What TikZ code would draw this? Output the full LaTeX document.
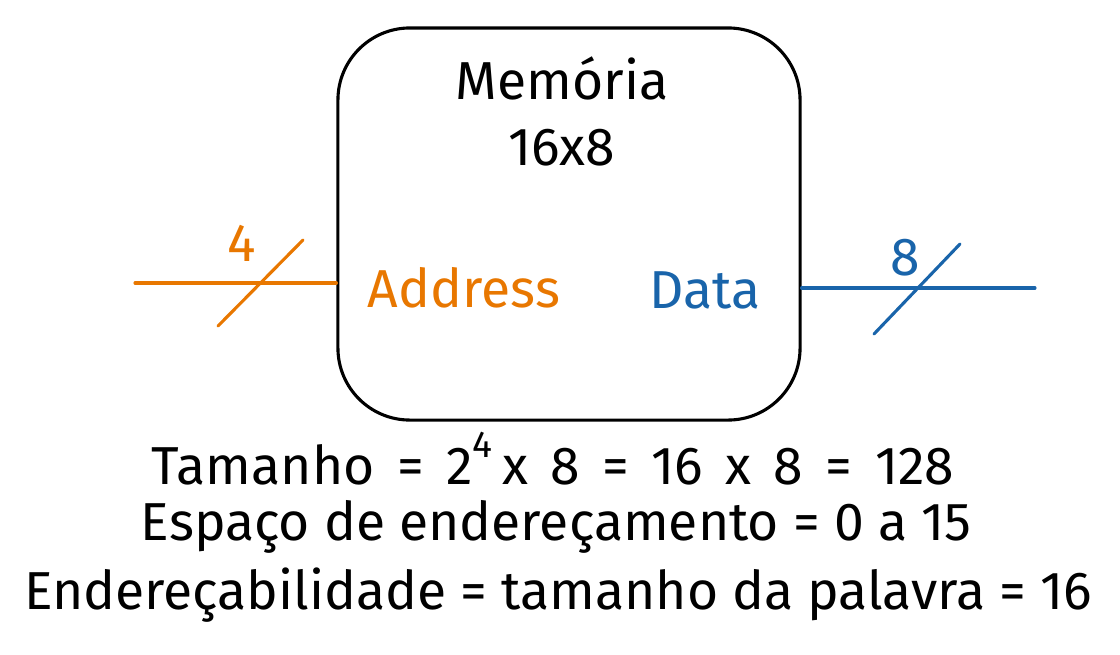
\documentclass[tikz,border=0pt]{standalone}
\usepackage{fontspec}
\setmainfont{Fira Sans}
\definecolor{addrorange}{RGB}{232,119,0}
\definecolor{datablue}{RGB}{25,100,170}
\tikzset{
	sketch/.style={line width=2.2pt, line cap=round},
	lbl/.style={anchor=center, inner sep=0pt, font=\fontsize{38}{44}\selectfont},
}
\begin{document}
\begin{tikzpicture}[x=0.025cm,y=-0.025cm]
	\useasboundingbox (0,0) rectangle (1120,654);
	\node[draw, sketch, rounded corners=1.8cm, minimum width=11.55cm, minimum height=9.8cm] (mem) at (569,224) {};
	\node[lbl] (title) at (562,78) {Memória};
	\node[lbl] (dims) at (562,148) {16x8};
	\node[lbl, text=addrorange] (addr) at (464,288) {Address};
	\node[lbl, text=datablue] (data) at (705,290) {Data};
	\coordinate (addrL) at (135,283);
	\coordinate (dataR) at (1035,288);
	\draw[sketch, addrorange] (addrL) -- (addrL -| mem.west);
	\draw[sketch, datablue] (dataR -| mem.east) -- (dataR);
	\coordinate (slashAa) at (218,326);
	\coordinate (slashAb) at (303,240);
	\draw[sketch, addrorange] (slashAa) -- (slashAb);
	\node[lbl, text=addrorange] (bitsA) at (242,243) {4};
	\coordinate (slashDa) at (874,334);
	\coordinate (slashDb) at (960,244);
	\draw[sketch, datablue] (slashDa) -- (slashDb);
	\node[lbl, text=datablue] (bitsD) at (905,258) {8};
	\node[lbl, anchor=base] (tam) at (553,484) {\spaceskip=0.42em Tamanho = 2\raisebox{0.5ex}{\textsuperscript{4}}\,x 8 = 16 x 8 = 128};
	\node[lbl] (esp) at (556,527) {Espaço de endereçamento = 0 a 15};
	\node[lbl] (end) at (558,595) {Endereçabilidade = tamanho da palavra = 16};
\end{tikzpicture}
\end{document}
